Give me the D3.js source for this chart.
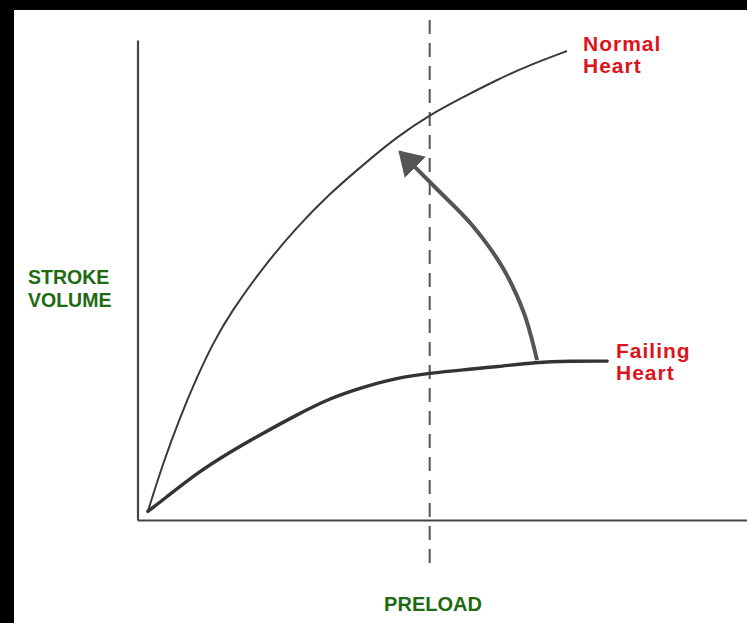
<!DOCTYPE html>
<html>

<head>
  <meta charset="utf-8">
  <title>Frank-Starling curves</title>
  <script src="https://cdnjs.cloudflare.com/ajax/libs/d3/7.8.5/d3.min.js"></script>
  <style>
    body {
      margin: 0;
      background: #000;
    }

    svg {
      display: block;
    }

    .lbl {
      font-family: "Liberation Sans", Arial, sans-serif;
      font-weight: bold;
    }
  </style>
</head>

<body>
  <script>
    // values (preload 0-100, stroke volume 0-100)
    var normalX = [1.7, 4.2, 7.0, 9.75, 12.4, 15.2, 20.6, 26.1, 31.6, 37.0, 42.5, 47.9, 53.4, 58.9, 64.3, 70.4];
    var normalY = [1.8, 11.9, 21.5, 29.8, 36.9, 43.1, 52.7, 61.0, 68.1, 74.0, 79.8, 84.4, 88.1, 91.7, 94.8, 97.7];

    var failingX = [1.7, 4.2, 9.75, 15.2, 20.6, 26.1, 31.6, 37.0, 42.5, 47.9, 53.4, 58.9, 65.4, 70.9, 77.0];
    var failingY = [1.8, 4.2, 9.8, 14.2, 18.1, 21.9, 25.4, 27.7, 29.6, 30.6, 31.3, 31.9, 32.9, 33.1, 33.1];

    var arrowX = [65.5, 63.3, 59.9, 54.8, 49.2, 43.0];
    var arrowY = [33.3, 43.3, 52.5, 61.5, 68.8, 76.7];

    var preload = 47.9;

    var seriesLabels = [
      { name: ["Normal", "Heart"], x: 583, y: 51 },
      { name: ["Failing", "Heart"], x: 616, y: 358 }
    ];
    var yTitle = ["STROKE", "VOLUME"];
    var xTitle = "PRELOAD";

    //--------------------------------

    var W = 747, H = 623;
    var svg = d3.select("body").append("svg")
      .attr("width", W)
      .attr("height", H);

    // black frame on top / left, white paper
    svg.append("rect").attr("width", W).attr("height", H).attr("fill", "#000");
    svg.append("rect").attr("x", 14).attr("y", 10)
      .attr("width", W - 14).attr("height", H - 10).attr("fill", "#fff");

    var x = d3.scaleLinear().domain([0, 100]).range([137.5, 747.5]);
    var y = d3.scaleLinear().domain([0, 100]).range([520, 40]);

    // axes: just the domain lines
    svg.append("g")
      .attr("transform", "translate(" + x(0) + ",0)")
      .call(d3.axisLeft(y).ticks(0).tickSizeOuter(0))
      .select(".domain").attr("stroke", "#444").attr("stroke-width", 2.2);

    svg.append("g")
      .attr("transform", "translate(0," + y(0) + ")")
      .call(d3.axisBottom(x).ticks(0).tickSizeOuter(0))
      .select(".domain").attr("stroke", "#444").attr("stroke-width", 2.2);

    // preload marker
    svg.append("line")
      .attr("x1", x(preload)).attr("x2", x(preload))
      .attr("y1", 20).attr("y2", 572)
      .attr("stroke", "#555")
      .attr("stroke-width", 2)
      .attr("stroke-dasharray", "14,9");

    var line = d3.line()
      .x(function (d) { return x(d[0]); })
      .y(function (d) { return y(d[1]); })
      .curve(d3.curveBasis);

    svg.append("path")
      .datum(d3.zip(normalX, normalY))
      .attr("d", line)
      .attr("fill", "none")
      .attr("stroke", "#3a3a3a")
      .attr("stroke-width", 2);

    svg.append("path")
      .datum(d3.zip(failingX, failingY))
      .attr("d", line)
      .attr("fill", "none")
      .attr("stroke", "#333")
      .attr("stroke-width", 3.4)
      .attr("stroke-linecap", "round");

    // arrow failing -> normal
    svg.append("defs").append("marker")
      .attr("id", "head")
      .attr("markerUnits", "userSpaceOnUse")
      .attr("viewBox", "0 0 24 30")
      .attr("markerWidth", 24)
      .attr("markerHeight", 30)
      .attr("refX", 22)
      .attr("refY", 15)
      .attr("orient", "auto")
      .append("path")
      .attr("d", "M0,0L24,15L0,30Z")
      .attr("fill", "#555");

    svg.append("path")
      .datum(d3.zip(arrowX, arrowY))
      .attr("d", line.curve(d3.curveCatmullRom))
      .attr("fill", "none")
      .attr("stroke", "#555")
      .attr("stroke-width", 4)
      .attr("marker-end", "url(#head)");

    // labels
    seriesLabels.forEach(function (s) {
      var t = svg.append("text").attr("class", "lbl")
        .attr("x", s.x).attr("y", s.y)
        .attr("fill", "#dc1420")
        .style("font-size", "21px")
        .style("letter-spacing", "1px");
      s.name.forEach(function (w, i) {
        t.append("tspan").attr("x", s.x).attr("dy", i ? 22 : 0).text(w);
      });
    });

    var yt = svg.append("text").attr("class", "lbl")
      .attr("x", 28).attr("y", 284)
      .attr("fill", "#1d6a12")
      .style("font-size", "19.5px");
    yTitle.forEach(function (w, i) {
      yt.append("tspan").attr("x", 28).attr("dy", i ? 22.5 : 0).text(w);
    });

    svg.append("text").attr("class", "lbl")
      .attr("x", 433).attr("y", 611)
      .attr("text-anchor", "middle")
      .attr("fill", "#1d6a12")
      .style("font-size", "20px")
      .text(xTitle);
  </script>
</body>

</html>
